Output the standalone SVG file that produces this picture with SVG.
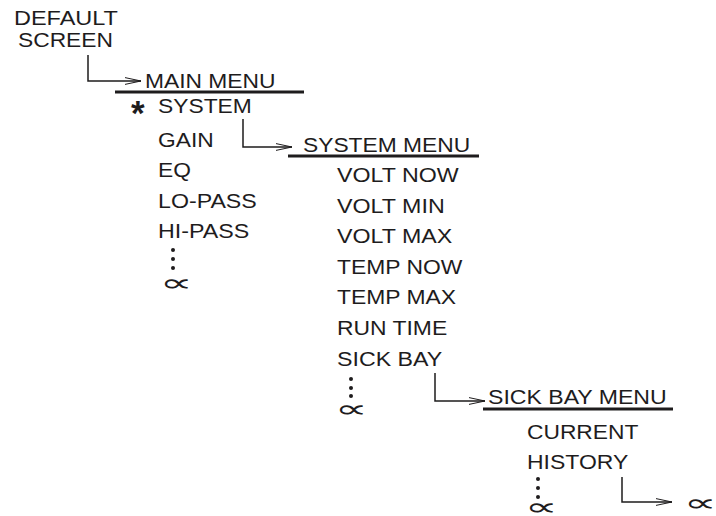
<svg xmlns="http://www.w3.org/2000/svg" width="716" height="516" viewBox="0 0 716 516">
<style>
  .t { font-family: "Liberation Sans", Arial, sans-serif; font-size: 20px; fill: #1e1c1d; }
  .inf { font-family: "DejaVu Sans", sans-serif; font-size: 24px; fill: #1e1c1d; }
  .ast { font-family: "Liberation Sans", Arial, sans-serif; font-size: 35px; font-weight: bold; fill: #1e1c1d; }
  .ul { stroke: #1e1c1d; stroke-width: 3; }
  .c { fill: none; stroke: #1e1c1d; stroke-width: 1.5; }
  .dot { fill: #1e1c1d; }
</style>
<defs>
  <marker id="arr" viewBox="0 0 16 8" refX="16" refY="4" markerWidth="16" markerHeight="8" markerUnits="userSpaceOnUse" orient="auto">
    <path d="M0,0.6 L16,4 L0,7.4" fill="none" stroke="#1e1c1d" stroke-width="1"/>
  </marker>
</defs>
<rect width="716" height="516" fill="#ffffff"/>
<g id="connectors">
  <path class="c" d="M88,55 V81 H141" marker-end="url(#arr)"/>
  <path class="c" d="M243,119 V147 H292" marker-end="url(#arr)"/>
  <path class="c" d="M435,373 V401 H485" marker-end="url(#arr)"/>
  <path class="c" d="M622,477 V502 H672" marker-end="url(#arr)"/>
</g>
<g id="default-screen">
  <text class="t" x="14" y="25" textLength="103.9" lengthAdjust="spacingAndGlyphs">DEFAULT</text>
  <text class="t" x="18" y="47" textLength="95" lengthAdjust="spacingAndGlyphs">SCREEN</text>
</g>
<g id="main-menu">
  <text class="t" x="145" y="88" textLength="130.5" lengthAdjust="spacingAndGlyphs">MAIN MENU</text>
  <line class="ul" x1="115" y1="92" x2="304" y2="92"/>
  <text class="ast" x="131" y="125">*</text>
  <text class="t" x="158" y="113" textLength="93.8" lengthAdjust="spacingAndGlyphs">SYSTEM</text>
  <text class="t" x="158" y="147" textLength="55.7" lengthAdjust="spacingAndGlyphs">GAIN</text>
  <text class="t" x="158" y="177" textLength="32.9" lengthAdjust="spacingAndGlyphs">EQ</text>
  <text class="t" x="158" y="208" textLength="98.8" lengthAdjust="spacingAndGlyphs">LO-PASS</text>
  <text class="t" x="158" y="238" textLength="91.2" lengthAdjust="spacingAndGlyphs">HI-PASS</text>
  <circle class="dot" cx="173" cy="250" r="2"/>
  <circle class="dot" cx="173" cy="259" r="2"/>
  <circle class="dot" cx="173" cy="268" r="2"/>
  <text class="inf" transform="translate(160,291) scale(1.9,1)">∝</text>
</g>
<g id="system-menu">
  <text class="t" x="303" y="152" textLength="167.2" lengthAdjust="spacingAndGlyphs">SYSTEM MENU</text>
  <line class="ul" x1="288" y1="156" x2="479" y2="156"/>
  <text class="t" x="337" y="182" textLength="121.6" lengthAdjust="spacingAndGlyphs">VOLT NOW</text>
  <text class="t" x="337" y="212.6" textLength="107.7" lengthAdjust="spacingAndGlyphs">VOLT MIN</text>
  <text class="t" x="337" y="243.2" textLength="115.3" lengthAdjust="spacingAndGlyphs">VOLT MAX</text>
  <text class="t" x="337" y="273.8" textLength="125.4" lengthAdjust="spacingAndGlyphs">TEMP NOW</text>
  <text class="t" x="337" y="304.4" textLength="119.1" lengthAdjust="spacingAndGlyphs">TEMP MAX</text>
  <text class="t" x="337" y="335" textLength="110.2" lengthAdjust="spacingAndGlyphs">RUN TIME</text>
  <text class="t" x="337" y="365.6" textLength="105.2" lengthAdjust="spacingAndGlyphs">SICK BAY</text>
  <circle class="dot" cx="351" cy="379" r="2"/>
  <circle class="dot" cx="351" cy="388" r="2"/>
  <circle class="dot" cx="351" cy="396" r="2"/>
  <text class="inf" transform="translate(335,417) scale(1.9,1)">∝</text>
</g>
<g id="sick-bay-menu">
  <text class="t" x="488" y="404" textLength="178.6" lengthAdjust="spacingAndGlyphs">SICK BAY MENU</text>
  <line class="ul" x1="483" y1="409" x2="673" y2="409"/>
  <text class="t" x="527" y="439" textLength="111.4" lengthAdjust="spacingAndGlyphs">CURRENT</text>
  <text class="t" x="527" y="469" textLength="101.3" lengthAdjust="spacingAndGlyphs">HISTORY</text>
  <circle class="dot" cx="538" cy="479" r="2"/>
  <circle class="dot" cx="538" cy="488" r="2"/>
  <circle class="dot" cx="538" cy="497" r="2"/>
  <text class="inf" transform="translate(525,515) scale(1.9,1)">∝</text>
</g>
<g id="more">
  <text class="inf" transform="translate(684,511) scale(1.9,1)">∝</text>
</g>
</svg>
